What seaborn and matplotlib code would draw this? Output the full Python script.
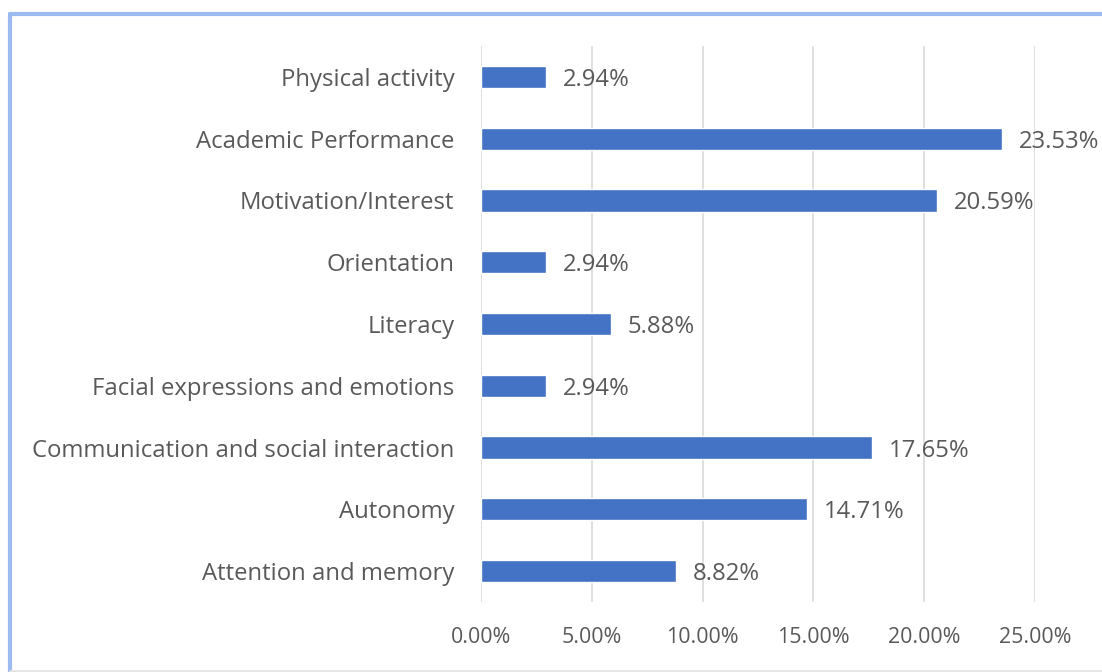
import matplotlib
matplotlib.use("Agg")
import matplotlib.pyplot as plt
from matplotlib.lines import Line2D
import seaborn as sns
import pandas as pd

categories = [
    "Physical activity",
    "Academic Performance",
    "Motivation/Interest",
    "Orientation",
    "Literacy",
    "Facial expressions and emotions",
    "Communication and social interaction",
    "Autonomy",
    "Attention and memory",
]
shares = [2.94, 23.53, 20.59, 2.94, 5.88, 2.94, 17.65, 14.71, 8.82]
x_ticks = [0, 5, 10, 15, 20, 25]

df = pd.DataFrame({"category": categories, "share": shares})

sns.set_theme(style="white")
plt.rcParams["font.family"] = ["Open Sans", "DejaVu Sans"]

fig = plt.figure(figsize=(11.02, 6.72), dpi=100)
ax = fig.add_axes([481 / 1102, 1 - 602 / 672, (1035 - 481) / 1102, (602 - 46) / 672])

sns.barplot(data=df, x="share", y="category", order=categories,
            color="#4472C4", saturation=1, width=0.36, ax=ax)

ax.set_xlim(0, 25)
ax.set_xticks(x_ticks)
ax.set_xticklabels([f"{t:.2f}%" for t in x_ticks])
ax.grid(axis="x", color="#D9D9D9", linewidth=1.2)
ax.set_axisbelow(True)
for s in ax.spines.values():
    s.set_visible(False)
ax.set_xlabel("")
ax.set_ylabel("")
ax.tick_params(axis="x", colors="#595959", labelsize=15.4, length=0, pad=18)
ax.tick_params(axis="y", colors="#595959", labelsize=17.2, length=0, pad=19)

for i, v in enumerate(shares):
    ax.text(v + 0.75, i, f"{v:.2f}%", va="center_baseline", ha="left",
            fontsize=17.2, color="#595959")

# outer frame of the chart area
fig.add_artist(Line2D([10 / 1102, 1], [1 - 14 / 672, 1 - 14 / 672],
                      transform=fig.transFigure, color="#9DBBF0", linewidth=3))
fig.add_artist(Line2D([10 / 1102, 10 / 1102], [1 - 14 / 672, 0],
                      transform=fig.transFigure, color="#9DBBF0", linewidth=3))
fig.add_artist(Line2D([10 / 1102, 1], [1.5 / 672, 1.5 / 672],
                      transform=fig.transFigure, color="#E3E3E3", linewidth=2))

fig.savefig("out.png", dpi=100)
